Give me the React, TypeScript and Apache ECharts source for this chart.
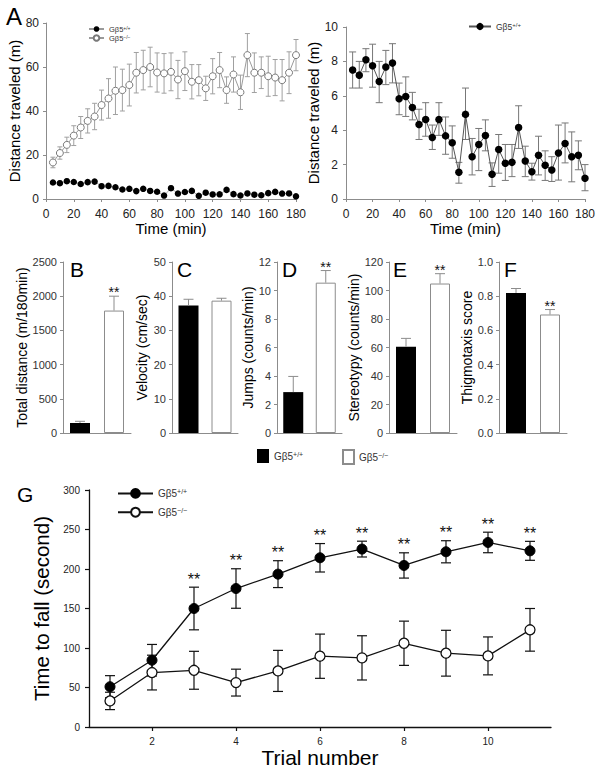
import React, { useEffect, useRef } from "react";
import * as echarts from "echarts";

const FONT = "'Liberation Sans', Arial, Helvetica, sans-serif";
const GRAY = "#8c8c8c";
const TXT = "#222";

// ---- Panel A (open field, 5-min bins) ----
const timeMin = [5, 10, 15, 20, 25, 30, 35, 40, 45, 50, 55, 60, 65, 70, 75, 80, 85, 90, 95, 100, 105, 110, 115, 120, 125, 130, 135, 140, 145, 150, 155, 160, 165, 170, 175, 180];
const wtDistance = [7.5, 7.2, 8.1, 7.75, 6.83, 7.67, 7.9, 5.83, 5.96, 5.32, 4.33, 4.62, 3.58, 4.62, 3.67, 3.27, 1.56, 4.92, 2.46, 3.17, 3.69, 1.44, 2.88, 2.08, 2.13, 4.15, 2.21, 1.58, 2.54, 1.96, 1.69, 2.67, 3.23, 2.46, 2.54, 1.21];
const wtUpper = [8.55, 8.0, 8.74, 9.0, 8.0, 8.64, 9.03, 6.74, 7.1, 6.2, 5.22, 5.6, 4.3, 5.6, 4.77, 4.25, 2.13, 6.45, 3.52, 4.1, 4.6, 2.1, 3.75, 3.17, 3.17, 5.42, 3.07, 2.08, 3.65, 2.8, 2.46, 4.3, 4.42, 3.9, 3.38, 2.0];
const wtLower = [6.45, 6.45, 7.4, 6.5, 5.6, 6.65, 6.75, 4.9, 4.8, 4.6, 3.46, 3.65, 2.88, 3.7, 2.6, 2.37, 0.92, 3.46, 1.4, 1.65, 2.8, 0.73, 1.5, 1.08, 1.3, 2.94, 1.3, 1.1, 1.4, 1.08, 1.02, 1.1, 2.1, 1.0, 1.7, 0.48];
const koDistance = [16.6, 20.9, 24.6, 28.8, 32.5, 35.5, 37.5, 42.7, 45.7, 49.2, 49.5, 51.8, 57.4, 58.6, 60.0, 57.5, 57.1, 57.8, 54.3, 58.1, 53.3, 54.0, 50.3, 55.8, 58.6, 49.5, 56.6, 48.5, 65.4, 57.4, 57.4, 55.8, 55.2, 54.0, 57.4, 65.4];
const koSE = [2.4, 2.8, 3.5, 4.5, 5, 5.5, 6, 6.8, 9, 10.8, 9.5, 9.5, 9.2, 9, 9, 8.9, 9, 8.6, 8.7, 8.8, 7.8, 7.1, 5.5, 8, 8, 6, 8, 7.8, 9.8, 9, 7.2, 9.1, 8.2, 9.4, 9.5, 7.1];

// ---- Panels B-F (bar charts: [wt, ko]) ----
const genotypes = ["Gβ5+/+", "Gβ5−/−"];
const totalDistance = [146, 1790];
const totalDistanceErr = [25, 210];
const velocity = [37.3, 38.7];
const velocityErr = [1.8, 0.7];
const jumps = [2.87, 10.55];
const jumpsErr = [1.1, 0.85];
const stereotypy = [60.6, 104.9];
const stereotypyErr = [5.8, 6.9];
const thigmotaxis = [0.819, 0.693];
const thigmotaxisErr = [0.026, 0.029];
const barSig = [0, 1];
const velocitySig = [0, 0];

// ---- Panel G (rotarod) ----
const trials = [1, 2, 3, 4, 5, 6, 7, 8, 9, 10, 11];
const trialTicks = [2, 4, 6, 8, 10];
const gWt = [51, 84.5, 150, 175.3, 193.5, 214.2, 225.2, 204.5, 221.8, 233.6, 223];
const gWtErr = [14, 20, 27, 25, 17, 18, 10, 16, 14, 13, 12];
const gKo = [33, 68.9, 71.8, 56.2, 71, 89.6, 87.5, 106, 93.4, 90, 123];
const gKoErr = [11, 22, 24, 17, 26, 28, 28, 28, 29, 24, 27];
const gSig = [0, 0, 1, 1, 1, 1, 1, 1, 1, 1, 1];

function legendText(name: string) {
  return name.endsWith("wt") ? "Gβ5{s|+/+}" : "Gβ5{s|−/−}";
}

function legendStyle(fs: number) {
  return {
    fontSize: fs,
    fontFamily: FONT,
    fontWeight: "normal",
    color: "#333",
    rich: { s: { fontSize: Math.round(fs * 0.7), verticalAlign: "top", fontFamily: FONT, fontWeight: "normal", color: "#333", padding: [0, 0, 3, 0] } },
  };
}

function errRender(capHalf: number, color: string, width: number, lowerCap: boolean, starFs: number, starGap: number) {
  return (params: any, api: any) => {
    const x = api.value(0);
    const lo = api.value(1);
    const hi = api.value(2);
    const sig = api.value(3);
    const pHi = api.coord([x, hi]);
    const pLo = api.coord([x, lo]);
    const st = { stroke: color, lineWidth: width };
    const children: any[] = [
      { type: "line", shape: { x1: pHi[0], y1: pHi[1], x2: pLo[0], y2: pLo[1] }, style: st },
      { type: "line", shape: { x1: pHi[0] - capHalf, y1: pHi[1], x2: pHi[0] + capHalf, y2: pHi[1] }, style: st },
    ];
    if (lowerCap) {
      children.push({ type: "line", shape: { x1: pLo[0] - capHalf, y1: pLo[1], x2: pLo[0] + capHalf, y2: pLo[1] }, style: st });
    }
    if (sig) {
      children.push({
        type: "text",
        x: pHi[0],
        y: pHi[1] - starGap,
        style: { text: "**", fontSize: starFs, fontFamily: FONT, fontWeight: "normal", fill: "#111", align: "center", verticalAlign: "bottom" },
      });
    }
    return { type: "group", children };
  };
}

function buildOption() {
  const barPanels = [
    { vals: totalDistance, errs: totalDistanceErr, sig: barSig, max: 2500, interval: 500, name: "Total distance (m/180min)", gap: 30, left: 63, width: 68, fmt: (v: number) => String(v) },
    { vals: velocity, errs: velocityErr, sig: velocitySig, max: 50, interval: 10, name: "Velocity (cm/sec)", gap: 23, left: 172, width: 66, fmt: (v: number) => String(v) },
    { vals: jumps, errs: jumpsErr, sig: barSig, max: 12, interval: 2, name: "Jumps (counts/min)", gap: 18, left: 277, width: 65, fmt: (v: number) => String(v) },
    { vals: stereotypy, errs: stereotypyErr, sig: barSig, max: 120, interval: 20, name: "Stereotypy (counts/min)", gap: 22, left: 389, width: 68, fmt: (v: number) => String(v) },
    { vals: thigmotaxis, errs: thigmotaxisErr, sig: barSig, max: 1, interval: 0.2, name: "Thigmotaxis score", gap: 24, left: 499, width: 68, fmt: (v: number) => v.toFixed(1) },
  ];

  const grids: any[] = [
    { left: 46, top: 23, width: 250, height: 176 },
    { left: 346, top: 27, width: 239, height: 172 },
    ...barPanels.map((p) => ({ left: p.left, top: 262, width: p.width, height: 171 })),
    { left: 89, top: 490, width: 462, height: 237 },
  ].map((g) => ({ ...g, containLabel: false, outerBoundsMode: "none" }));

  const axisLineGray = { show: true, lineStyle: { color: GRAY, width: 1 } };
  const lbl = (fs: number, margin: number, extra: any = {}) => ({ fontSize: fs, fontFamily: FONT, fontWeight: "normal", color: TXT, margin, ...extra });
  const nameStyle = (fs: number) => ({ fontSize: fs, fontFamily: FONT, fontWeight: "normal", color: "#000" });

  const xAxes: any[] = [
    {
      type: "value", gridIndex: 0, min: 0, max: 180, interval: 20,
      name: "Time (min)", nameLocation: "middle", nameGap: 21, nameTextStyle: nameStyle(15),
      axisLine: axisLineGray, axisTick: { show: true, length: 3, lineStyle: { color: GRAY } },
      axisLabel: lbl(12, 9), splitLine: { show: false },
    },
    {
      type: "value", gridIndex: 1, min: 0, max: 180, interval: 20,
      name: "Time (min)", nameLocation: "middle", nameGap: 21, nameTextStyle: nameStyle(15),
      axisLine: axisLineGray, axisTick: { show: true, length: 3, lineStyle: { color: GRAY } },
      axisLabel: lbl(12, 9), splitLine: { show: false },
    },
    ...barPanels.map((p, i) => ({
      type: "category", gridIndex: 2 + i, data: genotypes,
      axisLine: axisLineGray, axisTick: { show: false }, axisLabel: { show: false },
    })),
    {
      type: "value", gridIndex: 7, min: 0.5, max: 11.5,
      name: "Trial number", nameLocation: "middle", nameGap: 19, nameTextStyle: nameStyle(21),
      axisLine: { show: true, lineStyle: { color: "#111", width: 1.3 } },
      axisTick: { show: true, length: 4, customValues: trialTicks, lineStyle: { color: "#111", width: 1.2 } },
      axisLabel: lbl(10, 9, { customValues: trialTicks }), splitLine: { show: false },
    },
  ];

  const yAxes: any[] = [
    {
      type: "value", gridIndex: 0, min: 0, max: 80, interval: 20,
      name: "Distance traveled (m)", nameLocation: "middle", nameGap: 24, nameTextStyle: nameStyle(15),
      axisLine: axisLineGray, axisTick: { show: true, length: 3, lineStyle: { color: GRAY } },
      axisLabel: lbl(12, 7), splitLine: { show: false },
    },
    {
      type: "value", gridIndex: 1, min: 0, max: 10, interval: 2,
      name: "Distance traveled (m)", nameLocation: "middle", nameGap: 23, nameTextStyle: nameStyle(15),
      axisLine: axisLineGray, axisTick: { show: true, length: 3, lineStyle: { color: GRAY } },
      axisLabel: lbl(12, 8), splitLine: { show: false },
    },
    ...barPanels.map((p, i) => ({
      type: "value", gridIndex: 2 + i, min: 0, max: p.max, interval: p.interval,
      name: p.name, nameLocation: "middle", nameGap: p.gap, nameTextStyle: nameStyle(14),
      axisLine: axisLineGray, axisTick: { show: true, length: 3, lineStyle: { color: GRAY } },
      axisLabel: lbl(11, 6, { formatter: p.fmt, color: "#333" }), splitLine: { show: false },
    })),
    {
      type: "value", gridIndex: 7, min: 0, max: 300, interval: 50,
      name: "Time to fall (second)", nameLocation: "middle", nameGap: 31, nameTextStyle: nameStyle(20.5),
      axisLine: { show: true, lineStyle: { color: "#111", width: 1.3 } },
      axisTick: { show: true, length: 4, lineStyle: { color: "#111", width: 1.2 } },
      axisLabel: lbl(10, 9), splitLine: { show: false },
    },
  ];

  const series: any[] = [];

  // Panel A left
  series.push({
    type: "custom", xAxisIndex: 0, yAxisIndex: 0, z: 1,
    renderItem: errRender(2.5, "#a0a0a0", 1, true, 12, 0),
    encode: { x: 0, y: [1, 2] },
    data: timeMin.map((t, i) => [t, koDistance[i] - koSE[i], koDistance[i] + koSE[i], 0]),
  });
  series.push({
    name: "A_ko", type: "line", xAxisIndex: 0, yAxisIndex: 0, z: 3,
    data: timeMin.map((t, i) => [t, koDistance[i]]),
    symbol: "circle", symbolSize: 7,
    lineStyle: { color: "#9a9a9a", width: 1 },
    itemStyle: { color: "#fff", borderColor: "#7a7a7a", borderWidth: 1 },
  });
  series.push({
    name: "A_wt", type: "line", xAxisIndex: 0, yAxisIndex: 0, z: 3,
    data: timeMin.map((t, i) => [t, wtDistance[i]]),
    symbol: "circle", symbolSize: 6.5,
    lineStyle: { color: "#9a9a9a", width: 0.8 },
    itemStyle: { color: "#000", borderColor: "#000", borderWidth: 0 },
  });

  // Panel A right
  series.push({
    type: "custom", xAxisIndex: 1, yAxisIndex: 1, z: 1,
    renderItem: errRender(3.5, "#777", 1, true, 12, 0),
    encode: { x: 0, y: [1, 2] },
    data: timeMin.map((t, i) => [t, wtLower[i], wtUpper[i], 0]),
  });
  series.push({
    name: "R_wt", type: "line", xAxisIndex: 1, yAxisIndex: 1, z: 3,
    data: timeMin.map((t, i) => [t, wtDistance[i]]),
    symbol: "circle", symbolSize: 7.5,
    lineStyle: { color: "#555", width: 1 },
    itemStyle: { color: "#000" },
  });

  // Bars B-F
  barPanels.forEach((p, i) => {
    const ai = 2 + i;
    series.push({
      name: "bar_wt", type: "bar", xAxisIndex: ai, yAxisIndex: ai, barWidth: 20, barGap: "-100%", z: 2,
      data: [p.vals[0], "-"],
      itemStyle: { color: "#000", borderColor: "#000", borderWidth: 0 },
    });
    series.push({
      name: "bar_ko", type: "bar", xAxisIndex: ai, yAxisIndex: ai, barWidth: 20, barGap: "-100%", z: 2,
      data: ["-", p.vals[1]],
      itemStyle: { color: "#fff", borderColor: GRAY, borderWidth: 1 },
    });
    series.push({
      type: "custom", xAxisIndex: ai, yAxisIndex: ai, z: 3,
      renderItem: errRender(5, GRAY, 1, false, 14, -3),
      encode: { x: 0, y: [1, 2] },
      data: p.vals.map((v, k) => [k, v, v + p.errs[k], p.sig[k]]),
    });
  });

  // Panel G
  series.push({
    type: "custom", xAxisIndex: 7, yAxisIndex: 7, z: 1,
    renderItem: errRender(5, "#111", 1.2, true, 16, 0),
    encode: { x: 0, y: [1, 2] },
    data: trials.map((t, i) => [t, gKo[i] - gKoErr[i], gKo[i] + gKoErr[i], 0]),
  });
  series.push({
    type: "custom", xAxisIndex: 7, yAxisIndex: 7, z: 1,
    renderItem: errRender(5, "#111", 1.2, true, 16, 0),
    encode: { x: 0, y: [1, 2] },
    data: trials.map((t, i) => [t, gWt[i] - gWtErr[i], gWt[i] + gWtErr[i], gSig[i]]),
  });
  series.push({
    name: "G_wt", type: "line", xAxisIndex: 7, yAxisIndex: 7, z: 3,
    data: trials.map((t, i) => [t, gWt[i]]),
    symbol: "circle", symbolSize: 10,
    lineStyle: { color: "#111", width: 1.3 },
    itemStyle: { color: "#000", borderColor: "#000", borderWidth: 1 },
  });
  series.push({
    name: "G_ko", type: "line", xAxisIndex: 7, yAxisIndex: 7, z: 3,
    data: trials.map((t, i) => [t, gKo[i]]),
    symbol: "circle", symbolSize: 10,
    lineStyle: { color: "#111", width: 1.3 },
    itemStyle: { color: "#fff", borderColor: "#111", borderWidth: 1.3 },
  });

  const baseLegend = { selectedMode: false, padding: 0, formatter: legendText };
  const legend: any[] = [
    { ...baseLegend, data: ["A_wt", "A_ko"], left: 88, top: 25, orient: "vertical", itemWidth: 15, itemHeight: 7, itemGap: 1, textStyle: legendStyle(7.5) },
    { ...baseLegend, data: ["R_wt"], left: 468, top: 22, orient: "vertical", itemWidth: 22, itemHeight: 9, textStyle: legendStyle(8.5) },
    { ...baseLegend, data: ["bar_wt"], left: 257, top: 449, icon: "rect", itemWidth: 12, itemHeight: 14, textStyle: legendStyle(10) },
    { ...baseLegend, data: ["bar_ko"], left: 342, top: 449, icon: "rect", itemWidth: 11, itemHeight: 14, textStyle: legendStyle(10) },
    { ...baseLegend, data: ["G_wt", "G_ko"], left: 117, top: 488, orient: "vertical", itemWidth: 35, itemHeight: 11, itemGap: 8, textStyle: legendStyle(10) },
  ];

  const letter = (t: string, x: number, y: number, fs: number) => ({
    type: "text", left: x, top: y, style: { text: t, fontSize: fs, fontFamily: FONT, fontWeight: "normal", fill: "#000" },
  });

  const graphic = [
    letter("A", 6, 4, 24),
    letter("B", 70, 259, 21),
    letter("C", 177, 259, 21),
    letter("D", 282, 259, 21),
    letter("E", 393, 259, 21),
    letter("F", 504, 259, 21),
    letter("G", 17, 484, 21),
  ];

  return {
    animation: false,
    backgroundColor: "#fff",
    textStyle: { fontFamily: FONT, fontWeight: "normal" },
    grid: grids,
    xAxis: xAxes,
    yAxis: yAxes,
    legend,
    graphic,
    series,
  };
}

export default function App() {
  const ref = useRef<HTMLDivElement>(null);
  useEffect(() => {
    if (!ref.current) return;
    const chart = echarts.init(ref.current, null, { renderer: "svg" });
    chart.setOption(buildOption() as any);
    return () => chart.dispose();
  }, []);
  return (
    <div
      ref={ref}
      style={{ position: "absolute", left: 0, top: 0, width: 604, height: 774, background: "#fff" }}
    />
  );
}
